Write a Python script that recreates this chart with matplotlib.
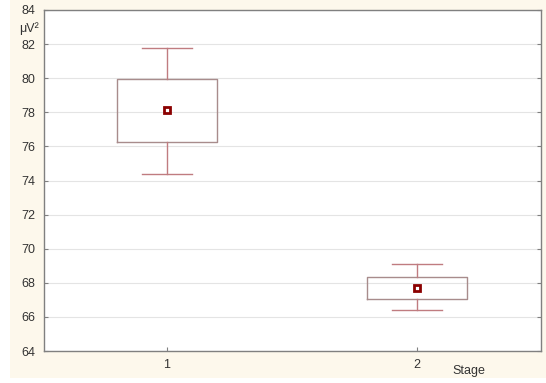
import matplotlib.pyplot as plt
from matplotlib.patches import Rectangle

stages = [1, 2]
means = [78.15, 67.72]
box_low = [76.27, 67.05]
box_high = [79.98, 68.35]
whisk_low = [74.4, 66.42]
whisk_high = [81.8, 69.08]
y_ticks = [64, 66, 68, 70, 72, 74, 76, 78, 80, 82, 84]

plt.rcParams['font.family'] = ['Liberation Sans Narrow', 'Liberation Sans', 'DejaVu Sans']

fig = plt.figure(figsize=(5.46, 3.83), dpi=100, facecolor='white')
fig.patches.append(Rectangle((10 / 546, 5 / 383), 536 / 546, 378 / 383,
                             transform=fig.transFigure, facecolor='#fdf8ec',
                             edgecolor='none', zorder=-10))
ax = fig.add_axes([44 / 546, 1 - 351 / 383, 497 / 546, 341 / 383])
ax.set_facecolor('white')

stats = []
for i in range(len(stages)):
    stats.append({'med': means[i], 'q1': box_low[i], 'q3': box_high[i],
                  'whislo': whisk_low[i], 'whishi': whisk_high[i], 'fliers': []})

ax.bxp(stats, positions=stages, widths=0.4, capwidths=0.2, showfliers=False,
       boxprops=dict(color='#a88c8c', linewidth=1),
       whiskerprops=dict(color='#c07c80', linewidth=1),
       capprops=dict(color='#c07c80', linewidth=1),
       medianprops=dict(linewidth=0))
ax.plot(stages, means, linestyle='none', marker='s', markersize=5,
        markerfacecolor='white', markeredgecolor='#8b0000', markeredgewidth=2,
        zorder=5)

ax.set_xlim(0.508, 2.496)
ax.set_ylim(64, 84)
ax.set_yticks(y_ticks)
ax.set_xticks(stages)
ax.set_xticklabels(['1', '2'])
ax.grid(axis='y', color='#e4e4e4', linewidth=0.8)
ax.set_axisbelow(True)
ax.tick_params(direction='in', length=3, width=0.8, color='#808080',
               labelsize=9, labelcolor='#333333', right=True, pad=6)
for s in ax.spines.values():
    s.set_color('#808080')
    s.set_linewidth(1)

fig.text(19 / 546, 1 - 29 / 383, 'μV²', fontsize=9, color='#333333', va='center')
fig.text(452 / 546, 1 - 371 / 383, 'Stage', fontsize=9, color='#333333', va='center')

fig.savefig('out.png', dpi=100, facecolor=fig.get_facecolor())
